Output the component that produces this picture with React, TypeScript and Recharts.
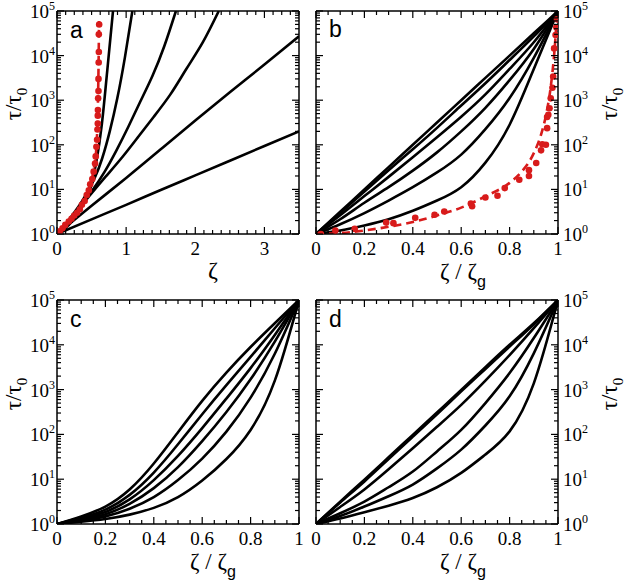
import { ComposedChart, Line, Scatter, XAxis, YAxis } from 'recharts';

// ---- data (x, tau/tau0) ----
// panel a: tau vs zeta
const aCurve1 = [[0, 1], [0.081, 1.2], [0.162, 1.55], [0.243, 2.14], [0.324, 3.3], [0.405, 5.6], [0.486, 11], [0.567, 40], [0.648, 282], [0.729, 5000], [0.81, 100000]];
const aCurve2 = [[0, 1], [0.109, 1.5], [0.218, 2.6], [0.327, 4.5], [0.436, 8.5], [0.545, 18], [0.654, 50], [0.763, 200], [0.872, 1100], [0.981, 8900], [1.09, 100000]];
const aCurve3 = [[0, 1], [0.17, 1.9], [0.34, 4.2], [0.52, 10], [0.69, 25], [0.86, 75], [1.03, 250], [1.2, 900], [1.38, 3500], [1.55, 16000], [1.72, 100000]];
const aCurve4 = [[0, 1], [0.234, 2.6], [0.468, 7.1], [0.7, 19], [0.94, 52], [1.17, 148], [1.4, 427], [1.64, 1350], [1.87, 5000], [2.11, 20000], [2.34, 100000]];
const aCurve5 = [[0, 1], [0.5, 4.3], [1.0, 18], [1.5, 79], [2.0, 350], [2.5, 1500], [3.0, 6300], [3.5, 27000]];
const aCurve6 = [[0, 1], [0.5, 2.13], [1.0, 4.5], [1.5, 9.7], [2.0, 20.6], [2.5, 44], [3.0, 94], [3.5, 200]];
const aRedFit = [[0, 1], [0.1, 1.45], [0.2, 2.05], [0.3, 3.1], [0.38, 5], [0.45, 9], [0.5, 16], [0.54, 35], [0.57, 90], [0.585, 300], [0.595, 1500], [0.602, 8000], [0.608, 60000]];
const aRedDots = [[0.01, 1.0], [0.04, 1.15], [0.08, 1.35], [0.12, 1.6], [0.17, 1.9], [0.21, 2.2], [0.25, 2.6], [0.29, 3.0], [0.33, 3.6], [0.36, 4.5], [0.4, 5.5], [0.43, 7.5], [0.46, 9.5], [0.48, 13], [0.51, 17], [0.53, 25], [0.55, 38], [0.56, 55], [0.57, 90], [0.58, 130], [0.585, 220], [0.59, 300], [0.59, 450], [0.592, 600], [0.595, 1100], [0.6, 1600], [0.6, 3000], [0.603, 7000], [0.605, 12000], [0.605, 30000], [0.61, 50000]];

// panels b-d: tau vs zeta/zeta_g, sampled at these x values
const gridX = [0, 0.1, 0.2, 0.3, 0.4, 0.5, 0.6, 0.7, 0.8, 0.9, 1];

const bTau1 = [1, 1.2, 1.55, 2.14, 3.31, 5.62, 11.2, 39.8, 282, 5012, 100000];
const bTau2 = [1, 1.66, 2.95, 5.62, 11.2, 24, 60.3, 224, 1122, 8913, 100000];
const bTau3 = [1, 2.14, 5.01, 11.2, 26.3, 67.6, 200, 676, 2818, 14125, 100000];
const bTau4 = [1, 2.63, 7.08, 19.1, 52.5, 148, 427, 1349, 5012, 19950, 100000];
const bTau5 = [1, 2.95, 8.91, 26.9, 79.4, 240, 759, 2399, 7943, 26900, 100000];
const bTau6 = [1, 3.16, 10, 31.6, 100, 316, 1000, 3162, 10000, 31623, 100000];
const bRedFit = [[0, 1], [0.1, 1.05], [0.2, 1.2], [0.3, 1.45], [0.4, 1.85], [0.5, 2.6], [0.6, 3.9], [0.7, 7], [0.8, 14], [0.85, 25], [0.9, 65], [0.93, 170], [0.95, 450], [0.97, 2000], [0.985, 12000], [0.995, 70000]];
const bRedDots = [[0.02, 1.0], [0.08, 1.2], [0.16, 1.3], [0.29, 1.8], [0.32, 1.75], [0.41, 2.3], [0.49, 2.7], [0.53, 3.2], [0.64, 4.8], [0.645, 4.2], [0.7, 6.6], [0.75, 7.2], [0.78, 10.7], [0.84, 16.5], [0.88, 20], [0.88, 27], [0.91, 39], [0.93, 75], [0.935, 103], [0.95, 100], [0.955, 236], [0.955, 420], [0.96, 470], [0.965, 660], [0.97, 1100], [0.977, 1900], [0.98, 3400], [0.984, 14500], [0.99, 29000], [0.993, 43000], [0.996, 65000]];

const cTau1 = [1, 1.48, 2.45, 5.89, 22.4, 112, 562, 2399, 8913, 30200, 100000];
const cTau2 = [1, 1.38, 2.09, 4.47, 14.1, 60.3, 282, 1259, 5370, 23440, 100000];
const cTau3 = [1, 1.32, 1.86, 3.55, 9.55, 33.1, 138, 631, 3020, 16600, 100000];
const cTau4 = [1, 1.26, 1.66, 2.82, 6.31, 18.6, 70.8, 316, 1698, 11750, 100000];
const cTau5 = [1, 1.2, 1.48, 2.19, 3.98, 9.55, 28.8, 115, 661, 6310, 100000];
const cTau6 = [1, 1.12, 1.29, 1.62, 2.29, 3.98, 9.33, 28.2, 126, 1585, 100000];

const dTau1 = [1, 3.16, 9.77, 30.9, 97.7, 309, 977, 3162, 10000, 30200, 100000];
const dTau2 = [1, 3.02, 8.91, 28.2, 89.1, 282, 912, 2884, 9120, 28840, 100000];
const dTau3 = [1, 2.4, 5.89, 16.6, 49, 148, 457, 1585, 5888, 23440, 100000];
const dTau4 = [1, 1.74, 3.16, 6.61, 14.8, 41.7, 126, 501, 2344, 14125, 100000];
const dTau5 = [1, 1.51, 2.45, 4.17, 7.59, 17.4, 45.7, 158, 708, 6457, 100000];
const dTau6 = [1, 1.32, 1.82, 2.57, 3.8, 6.61, 13.8, 35.5, 117, 1380, 100000];

// axis ticks
const aXMajor = [0, 1, 2, 3];
const gXMajor = [0, 0.2, 0.4, 0.6, 0.8, 1];
const yMajor = [1, 10, 100, 1000, 10000, 100000];

const aXTicks: number[] = [];
for (let i = 0; i <= 28; i++) aXTicks.push(i * 0.125);
const gXTicks: number[] = [];
for (let i = 0; i <= 20; i++) gXTicks.push(Math.round(i * 5) / 100);
const yTicks: number[] = [];
yMajor.forEach((m, i) => {
  yTicks.push(m);
  if (i < yMajor.length - 1) for (let k = 2; k <= 9; k++) yTicks.push(m * k);
});

const SERIF = '"Liberation Serif", "DejaVu Serif", serif';
const SANS = '"Liberation Sans", "DejaVu Sans", sans-serif';
const RED = '#d81b1b';

const pairs = (pts: number[][]) => pts.map(([x, y]) => ({ x, y }));
const onGrid = (tau: number[]) => tau.map((y, i) => ({ x: gridX[i], y }));

const isIn = (v: number, list: number[]) => list.some(m => Math.abs(m - v) < 1e-6);

function makeXTick(side: 'top' | 'bottom', majors: number[], labelled: boolean) {
  return (props: any) => {
    const { x, y, payload } = props;
    const v = payload.value;
    const major = isIn(v, majors);
    const len = major ? 7 : 4;
    const dir = side === 'bottom' ? -1 : 1;
    return (
      <g>
        <line x1={x} y1={y} x2={x} y2={y + dir * len} stroke="#000" strokeWidth={1.2} />
        {labelled && major && (
          <text x={x} y={y + 21} textAnchor="middle" fontFamily={SERIF} fontSize={19} fill="#000">
            {String(v)}
          </text>
        )}
      </g>
    );
  };
}

function makeYTick(side: 'left' | 'right', labelled: boolean) {
  return (props: any) => {
    const { x, y, payload } = props;
    const v = payload.value;
    const major = isIn(v, yMajor);
    const len = major ? 7 : 4;
    const dir = side === 'left' ? 1 : -1;
    return (
      <g>
        <line x1={x} y1={y} x2={x + dir * len} y2={y} stroke="#000" strokeWidth={1.2} />
        {labelled && major && (
          <text
            x={side === 'left' ? x - 2 : x + 5}
            y={y + 7}
            textAnchor={side === 'left' ? 'end' : 'start'}
            fontFamily={SERIF}
            fontSize={19}
            fill="#000"
          >
            10<tspan dy={-8} fontSize={12}>{Math.round(Math.log10(v))}</tspan>
          </text>
        )}
      </g>
    );
  };
}

interface PanelProps {
  left: number;
  top: number;
  width: number;
  height: number;
  yLeftW: number;
  yRightW: number;
  xTopH: number;
  xBottomH: number;
  xMax: number;
  xTicks: number[];
  xMajors: number[];
  leftLabels: boolean;
  curves: { x: number; y: number }[][];
  redFit?: { x: number; y: number }[];
  redDots?: { x: number; y: number }[];
}

function Panel(p: PanelProps) {
  const axisLine = { stroke: '#000', strokeWidth: 1.5 };
  return (
    <div style={{ position: 'absolute', left: p.left, top: p.top }}>
      <ComposedChart width={p.width} height={p.height} margin={{ top: 0, right: 0, bottom: 0, left: 0 }}>
        <XAxis
          xAxisId="b"
          orientation="bottom"
          type="number"
          dataKey="x"
          domain={[0, p.xMax]}
          allowDataOverflow
          ticks={p.xTicks}
          interval={0}
          height={p.xBottomH}
          tickSize={0}
          tickMargin={0}
          tickLine={false}
          axisLine={axisLine}
          tick={makeXTick('bottom', p.xMajors, true)}
        />
        <XAxis
          xAxisId="t"
          orientation="top"
          type="number"
          dataKey="x"
          domain={[0, p.xMax]}
          allowDataOverflow
          ticks={p.xTicks}
          interval={0}
          height={p.xTopH}
          tickSize={0}
          tickMargin={0}
          tickLine={false}
          axisLine={axisLine}
          tick={makeXTick('top', p.xMajors, false)}
        />
        <YAxis
          yAxisId="l"
          orientation="left"
          type="number"
          scale="log"
          domain={[1, 100000]}
          allowDataOverflow
          ticks={yTicks}
          interval={0}
          width={p.yLeftW}
          tickSize={0}
          tickMargin={0}
          tickLine={false}
          axisLine={axisLine}
          tick={makeYTick('left', p.leftLabels)}
        />
        <YAxis
          yAxisId="r"
          orientation="right"
          type="number"
          scale="log"
          domain={[1, 100000]}
          allowDataOverflow
          ticks={yTicks}
          interval={0}
          width={p.yRightW}
          tickSize={0}
          tickMargin={0}
          tickLine={false}
          axisLine={axisLine}
          tick={makeYTick('right', !p.leftLabels)}
        />
        {p.curves.map((c, i) => (
          <Line
            key={i}
            data={c}
            dataKey="y"
            xAxisId="b"
            yAxisId="l"
            type="natural"
            stroke="#000"
            strokeWidth={2.6}
            dot={false}
            isAnimationActive={false}
          />
        ))}
        {p.redFit && (
          <Line
            data={p.redFit}
            dataKey="y"
            xAxisId="b"
            yAxisId="l"
            type="monotone"
            stroke={RED}
            strokeWidth={2.6}
            strokeDasharray="8 5"
            dot={false}
            isAnimationActive={false}
          />
        )}
        {p.redDots && (
          <Scatter
            data={p.redDots}
            dataKey="y"
            xAxisId="b"
            yAxisId="l"
            isAnimationActive={false}
            shape={(s: any) => <circle cx={s.cx} cy={s.cy} r={3.3} fill={RED} />}
          />
        )}
      </ComposedChart>
    </div>
  );
}

function TauLabel({ x, y }: { x: number; y: number }) {
  return (
    <text
      x={x}
      y={y}
      transform={`rotate(-90 ${x} ${y})`}
      textAnchor="middle"
      fontFamily={SERIF}
      fontSize={23}
      fill="#000"
    >
      τ/τ<tspan dy={6} fontSize={15}>0</tspan>
    </text>
  );
}

function ZetaRatioLabel({ x, y }: { x: number; y: number }) {
  return (
    <text x={x} y={y} textAnchor="middle" fontFamily={SERIF} fontSize={23} fill="#000">
      ζ / ζ<tspan dy={8} fontSize={16} fontFamily={SANS}>g</tspan>
    </text>
  );
}

export default function App() {
  const aCurves = [aCurve1, aCurve2, aCurve3, aCurve4, aCurve5, aCurve6].map(pairs);
  const bCurves = [bTau1, bTau2, bTau3, bTau4, bTau5, bTau6].map(onGrid);
  const cCurves = [cTau1, cTau2, cTau3, cTau4, cTau5, cTau6].map(onGrid);
  const dCurves = [dTau1, dTau2, dTau3, dTau4, dTau5, dTau6].map(onGrid);

  return (
    <div style={{ position: 'absolute', left: 0, top: 0, width: 625, height: 583, background: '#fff', overflow: 'hidden' }}>
      <Panel
        left={0} top={0} width={312} height={290}
        yLeftW={57} yRightW={13} xTopH={11} xBottomH={56}
        xMax={3.5} xTicks={aXTicks} xMajors={aXMajor} leftLabels
        curves={aCurves} redFit={pairs(aRedFit)} redDots={pairs(aRedDots)}
      />
      <Panel
        left={300} top={0} width={325} height={290}
        yLeftW={16} yRightW={67} xTopH={11} xBottomH={56}
        xMax={1} xTicks={gXTicks} xMajors={gXMajor} leftLabels={false}
        curves={bCurves} redFit={pairs(bRedFit)} redDots={pairs(bRedDots)}
      />
      <Panel
        left={0} top={285} width={312} height={298}
        yLeftW={57} yRightW={13} xTopH={15} xBottomH={59}
        xMax={1} xTicks={gXTicks} xMajors={gXMajor} leftLabels
        curves={cCurves}
      />
      <Panel
        left={300} top={285} width={325} height={298}
        yLeftW={16} yRightW={67} xTopH={15} xBottomH={59}
        xMax={1} xTicks={gXTicks} xMajors={gXMajor} leftLabels={false}
        curves={dCurves}
      />
      <svg width={625} height={583} style={{ position: 'absolute', left: 0, top: 0, pointerEvents: 'none' }}>
        <text x={70} y={38} fontFamily={SANS} fontSize={23} fill="#000">a</text>
        <text x={329} y={37} fontFamily={SANS} fontSize={23} fill="#000">b</text>
        <text x={70} y={327} fontFamily={SANS} fontSize={23} fill="#000">c</text>
        <text x={329} y={327} fontFamily={SANS} fontSize={23} fill="#000">d</text>
        <TauLabel x={21} y={104} />
        <TauLabel x={21} y={394} />
        <TauLabel x={617} y={104} />
        <TauLabel x={617} y={394} />
        <text x={213} y={278} textAnchor="middle" fontFamily={SERIF} fontSize={24} fill="#000">ζ</text>
        <ZetaRatioLabel x={463} y={279} />
        <ZetaRatioLabel x={213} y={569} />
        <ZetaRatioLabel x={463} y={569} />
      </svg>
    </div>
  );
}
